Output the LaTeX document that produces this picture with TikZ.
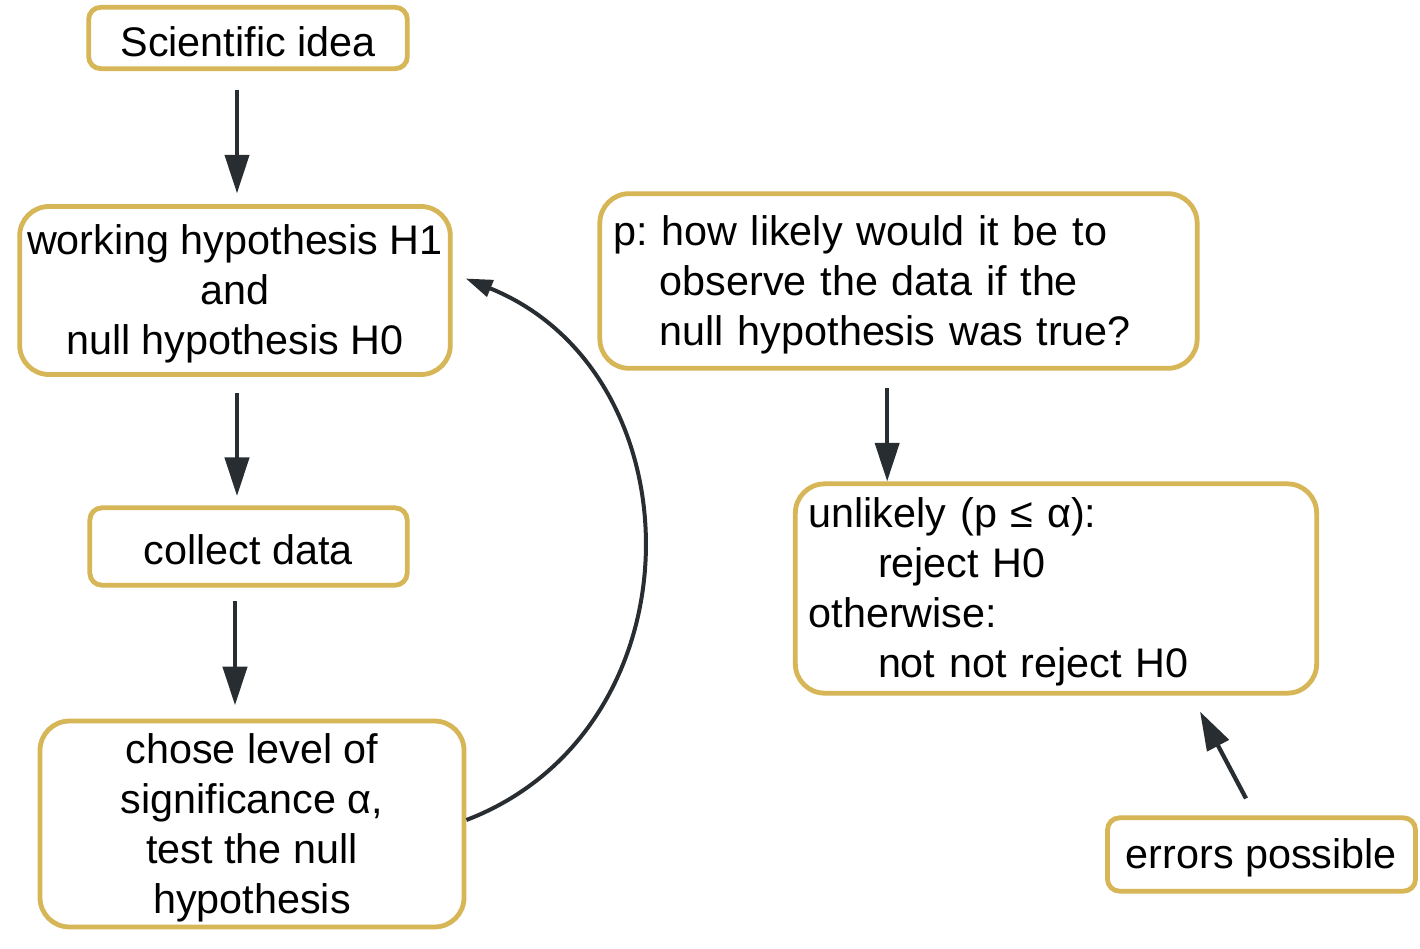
\documentclass[tikz,border=0pt]{standalone}
\usepackage{fontspec}
\setmainfont{Liberation Sans}
\usetikzlibrary{arrows.meta,positioning,calc}
\definecolor{HypGold}{RGB}{214,182,86}
\definecolor{HypInk}{RGB}{40,45,50}
\newcommand{\hypstrut}{\rule{0pt}{27.5pt}}
\tikzset{
  hyp/box/.style={
    draw=HypGold,
    line width=3.6pt,
    rounded corners=9pt,
    fill=white,
    align=center,
    text=black,
    inner xsep=10pt,
    inner ysep=4pt,
    font=\fontsize{31}{37.5}\selectfont\frenchspacing,
    execute at begin node={\hypstrut}
  },
  hyp/bigbox/.style={hyp/box, rounded corners=22pt},
  hyp/leftbox/.style={hyp/bigbox, align=left},
  hyp/arrow/.style={-{Triangle[length=29pt,width=18pt]}, line width=3.2pt, draw=HypInk},
  hyp/curvearrow/.style={-{Triangle[length=20pt,width=13pt]}, line width=3pt, draw=HypInk}
}
\begin{document}
\begin{tikzpicture}[x=0.75pt,y=-0.75pt]
  \useasboundingbox (0,0) rectangle (1420,949);
  % left column
  \node[hyp/box, minimum width=239pt, minimum height=46pt] (idea) at (248,38) {Scientific idea};
  \node[hyp/bigbox, inner xsep=4pt, minimum width=323pt, minimum height=126pt] (hyp) at (235,290.5)
    {\hypstrut working hypothesis H1\\and\\null hypothesis H0};
  \node[hyp/box, minimum width=238pt, minimum height=58pt] (data) at (248.5,546.5) {collect data};
  \node[hyp/bigbox, minimum width=318pt, minimum height=152pt] (test) at (252,824)
    {\hypstrut chose level of\\significance α,\\test the null\\hypothesis};
  % right column
  \node[hyp/leftbox, text width=428pt, minimum height=131pt] (pval) at (898.5,281)
    {p: how likely would it be to\\\hspace*{35pt}observe the data if the\\\hspace*{35pt}null hypothesis was true?};
  \node[hyp/leftbox, text width=371pt, minimum height=157pt] (decide) at (1056,588.5)
    {unlikely (p ≤ α):\\\hspace*{52pt}reject H0\\otherwise:\\\hspace*{52pt}not not reject H0};
  \node[hyp/box, minimum width=231pt, minimum height=55pt] (errs) at (1261.5,854.5) {errors possible};
  % connectors
  \draw[hyp/arrow, shorten <=14pt, shorten >=8pt] ([xshift=1.5pt]hyp.north |- idea.south) -- ([xshift=1.5pt]hyp.north);
  \draw[hyp/arrow, shorten <=12pt, shorten >=7pt] ([xshift=1.5pt]hyp.south) -- ([xshift=1.5pt]hyp.south |- data.north);
  \draw[hyp/arrow, shorten <=10pt, shorten >=10pt] (hyp.south |- data.south) -- (hyp.south |- test.north);
  \draw[hyp/curvearrow] ([yshift=3pt]test.east) to[out=21, in=-22, looseness=1.2] ($(hyp.east)+(13,-12)$);
  \draw[hyp/arrow, shorten <=13pt] ([xshift=-8.5pt]pval.south) -- ([xshift=-8.5pt]pval.south |- decide.north);
  \draw[hyp/arrow] ($(errs.north)+(-15.5,-17)$) -- ($(decide.south)+(144,16)$);
\end{tikzpicture}
\end{document}
